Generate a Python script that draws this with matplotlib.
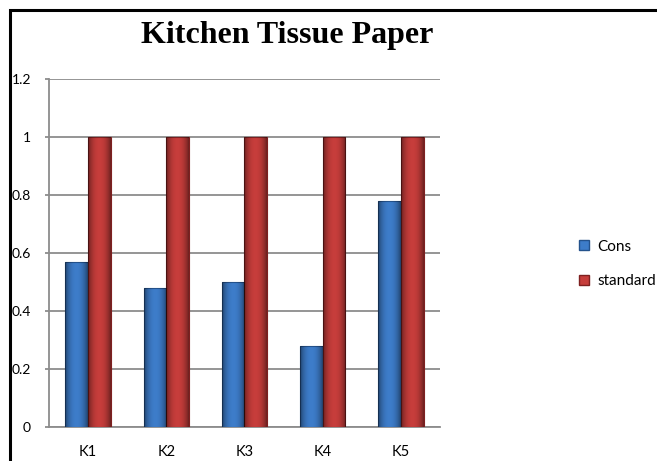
import numpy as np
import matplotlib.pyplot as plt
from matplotlib.patches import Rectangle
from matplotlib.lines import Line2D

categories = ["K1", "K2", "K3", "K4", "K5"]
cons = [0.57, 0.48, 0.50, 0.28, 0.78]
standard = [1, 1, 1, 1, 1]
y_ticks = [0, 0.2, 0.4, 0.6, 0.8, 1, 1.2]
y_tick_labels = ["0", "0.2", "0.4", "0.6", "0.8", "1", "1.2"]

blue = "#3d7cc9"
blue_edge = "#24528c"
red = "#c63d3b"
red_edge = "#7e2020"

label_font = ["Lato", "DejaVu Sans"]

fig = plt.figure(figsize=(6.57, 4.61), dpi=100)
ax = fig.add_axes([0.0746, 0.0738, 0.595, 0.755])

x = np.arange(len(categories))
w = 0.29

# dark overlay, transparent in the middle of a bar and darker at its sides
shade = np.zeros((2, 64, 4))
shade[..., 3] = 0.45 * np.abs(np.linspace(-1, 1, 64)) ** 2.2


def shaded_bars(xpos, vals, color, edge):
    bars = ax.bar(xpos, vals, w, color=color, edgecolor=edge, linewidth=0.8, zorder=3)
    for b in bars:
        im = ax.imshow(shade, extent=[b.get_x(), b.get_x() + b.get_width(), 0, b.get_height()],
                       aspect="auto", zorder=4, interpolation="bilinear")
        im.set_clip_path(b)
    return bars


shaded_bars(x - w / 2, cons, blue, blue_edge)
shaded_bars(x + w / 2, standard, red, red_edge)

ax.set_xlim(-0.5, len(categories) - 0.5)
ax.set_ylim(0, 1.2)
ax.set_yticks(y_ticks)
ax.set_yticklabels(y_tick_labels, family=label_font, fontsize=10)
ax.set_xticks(x)
ax.set_xticklabels(categories, family=label_font, fontsize=10.5)
ax.tick_params(axis="x", length=0, pad=13)
ax.tick_params(axis="y", length=3, color="#8c8c8c", width=1.3, pad=10)
ax.grid(axis="y", color="#8c8c8c", linewidth=1.3, zorder=0)
ax.set_axisbelow(True)
for side in ["top", "right"]:
    ax.spines[side].set_visible(False)
ax.spines["left"].set_color("#8c8c8c")
ax.spines["bottom"].set_color("#8c8c8c")
ax.spines["left"].set_linewidth(1.3)
ax.spines["bottom"].set_linewidth(1.3)

fig.text(0.437, 0.922, "Kitchen Tissue Paper", ha="center", va="center",
         family=["Liberation Serif", "DejaVu Serif"], fontweight="bold", fontsize=23)

handles = [
    Line2D([], [], marker="s", linestyle="none", markersize=7, markerfacecolor=blue,
           markeredgecolor=blue_edge, label="Cons"),
    Line2D([], [], marker="s", linestyle="none", markersize=7, markerfacecolor=red,
           markeredgecolor=red_edge, label="standard"),
]
fig.legend(handles=handles, loc="center left", bbox_to_anchor=(0.865, 0.427),
           frameon=False, prop={"family": label_font, "size": 11},
           handletextpad=0.4, labelspacing=1.35, borderpad=0, handlelength=1.0)

# outer border of the chart area
fig.patches.append(Rectangle((0.0145, -0.05), 1.2, 1.0 - 0.022 + 0.05, transform=fig.transFigure,
                             fill=False, edgecolor="black", linewidth=2.2))

fig.savefig("out.png", dpi=100)
